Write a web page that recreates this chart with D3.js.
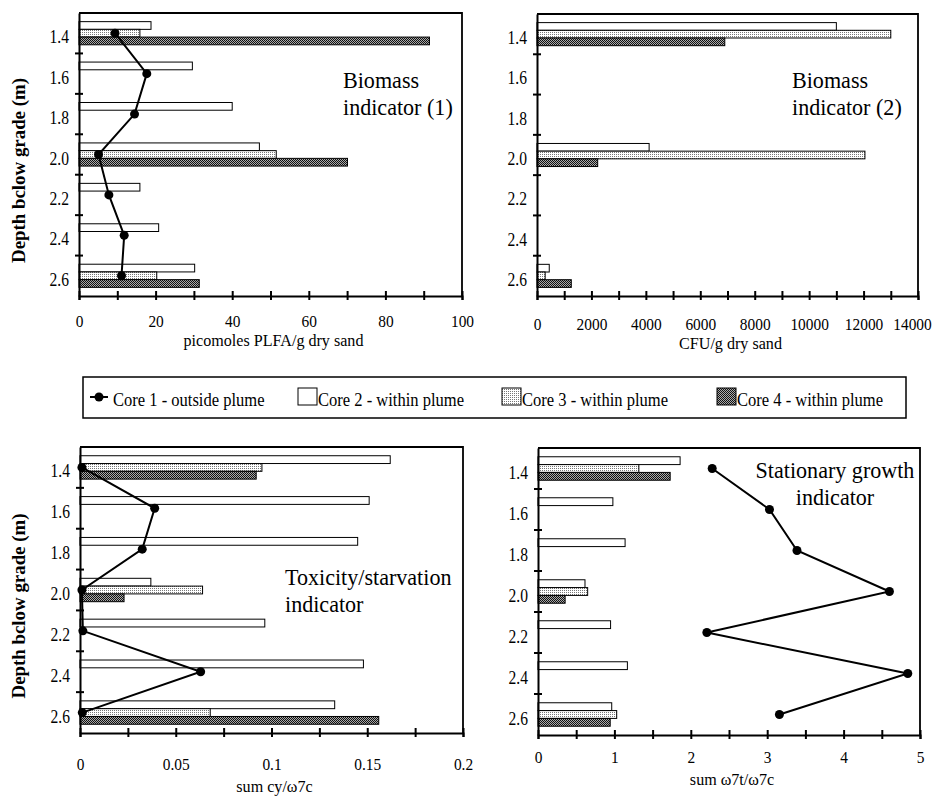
<!DOCTYPE html>
<html>
<head>
<meta charset="utf-8">
<script src="https://cdn.jsdelivr.net/npm/d3@7"></script>
<style>
  body { margin: 0; background: #fff; }
  text { font-family: "Liberation Serif", "Times New Roman", serif; fill: #000; }
</style>
</head>
<body>
<svg id="chart" width="936" height="796" font-family="Liberation Serif, serif"></svg>
<script>
/* DATA */
const depths = ["1.4", "1.6", "1.8", "2.0", "2.2", "2.4", "2.6"];
const coreNames = ["Core 1 - outside plume", "Core 2 - within plume", "Core 3 - within plume", "Core 4 - within plume"];

// biomass (1): picomoles PLFA/g dry sand
const plfaCore1 = [9.4, 17.7, 14.5, 5.1, 7.8, 11.8, 11.1];
const plfaCore2 = [18.8, 29.6, 40.0, 47.1, 15.9, 20.8, 30.2];
const plfaCore3 = [15.9, null, null, 51.5, null, null, 20.3];
const plfaCore4 = [91.5, null, null, 70.1, null, null, 31.4];

// biomass (2): CFU/g dry sand
const cfuCore2 = [11000, null, null, 4120, null, null, 450];
const cfuCore3 = [13000, null, null, 12050, null, null, 300];
const cfuCore4 = [6900, null, null, 2230, null, null, 1260];

// toxicity/starvation: sum cy/w7c
const cyCore1 = [0.001, 0.039, 0.0325, 0.001, 0.0015, 0.063, 0.0012];
const cyCore2 = [0.162, 0.151, 0.145, 0.037, 0.0965, 0.148, 0.133];
const cyCore3 = [0.095, null, null, 0.064, null, null, 0.068];
const cyCore4 = [0.092, null, null, 0.023, null, null, 0.156];

// stationary growth: sum w7t/w7c
const w7Core1 = [2.28, 3.03, 3.39, 4.6, 2.21, 4.84, 3.16];
const w7Core2 = [1.86, 0.98, 1.14, 0.615, 0.95, 1.17, 0.965];
const w7Core3 = [1.32, null, null, 0.65, null, null, 1.03];
const w7Core4 = [1.73, null, null, 0.355, null, null, 0.945];

// ticks
const plfaTicks = [0, 10, 20, 30, 40, 50, 60, 70, 80, 90, 100];
const plfaLabels = [0, 20, 40, 60, 80, 100];
const cfuTicks = [0, 1000, 2000, 3000, 4000, 5000, 6000, 7000, 8000, 9000, 10000, 11000, 12000, 13000, 14000];
const cfuLabels = [0, 2000, 4000, 6000, 8000, 10000, 12000, 14000];
const cyTicks = [0, 0.025, 0.05, 0.075, 0.1, 0.125, 0.15, 0.175, 0.2];
const cyLabels = [0, 0.05, 0.1, 0.15, 0.2];
const w7Ticks = [0, 0.5, 1, 1.5, 2, 2.5, 3, 3.5, 4, 4.5, 5];
const w7Labels = [0, 1, 2, 3, 4, 5];

/* LAYOUT */
const panels = [
  { x0: 79, x1: 462, y0: 13, y1: 296, max: 100, ticks: plfaTicks, labels: plfaLabels,
    line: plfaCore1, bars: [plfaCore2, plfaCore3, plfaCore4],
    xTitle: "picomoles PLFA/g dry sand", labelY: 19, titleY: 50, yTitle: true, lastShift: 0,
    title: ["Biomass", "indicator (1)"], tx: 343, ty: 88, anchor: "start" },
  { x0: 537, x1: 918, y0: 14, y1: 296, max: 14000, ticks: cfuTicks, labels: cfuLabels,
    line: null, bars: [cfuCore2, cfuCore3, cfuCore4],
    xTitle: "CFU/g dry sand", labelY: 22, titleY: 53, yTitle: false, lastShift: -6,
    title: ["Biomass", "indicator (2)"], tx: 792, ty: 88, anchor: "start" },
  { x0: 80, x1: 463, y0: 447, y1: 733, max: 0.2, ticks: cyTicks, labels: cyLabels,
    line: cyCore1, bars: [cyCore2, cyCore3, cyCore4],
    xTitle: "sum cy/\u03c97c", labelY: 25, titleY: 59, yTitle: true, lastShift: 0,
    title: ["Toxicity/starvation", "indicator"], tx: 285, ty: 585, anchor: "start" },
  { x0: 538, x1: 920, y0: 448, y1: 735, max: 5, ticks: w7Ticks, labels: w7Labels,
    line: w7Core1, bars: [w7Core2, w7Core3, w7Core4],
    xTitle: "sum \u03c97t/\u03c97c", labelY: 16, titleY: 50, yTitle: false, lastShift: 0,
    title: ["Stationary growth", "indicator"], tx: 835, ty: 478, anchor: "middle" }
];

const svg = d3.select("#chart");

// squeeze text horizontally (the original type is condensed)
function squeeze(sel, k) {
  sel.each(function () {
    const w = this.getComputedTextLength();
    d3.select(this).attr("textLength", w * k).attr("lengthAdjust", "spacingAndGlyphs");
  });
}

/* PATTERNS */
const defs = svg.append("defs");
const light = defs.append("pattern").attr("id", "stipple")
  .attr("width", 2).attr("height", 2).attr("patternUnits", "userSpaceOnUse");
light.append("rect").attr("width", 2).attr("height", 2).attr("fill", "#fff");
light.append("rect").attr("width", 1).attr("height", 1).attr("fill", "#777");

const dark = defs.append("pattern").attr("id", "checker")
  .attr("width", 2).attr("height", 2).attr("patternUnits", "userSpaceOnUse");
dark.append("rect").attr("width", 2).attr("height", 2).attr("fill", "#aaa");
dark.append("rect").attr("width", 1).attr("height", 1).attr("fill", "#111");
dark.append("rect").attr("x", 1).attr("y", 1).attr("width", 1).attr("height", 1).attr("fill", "#111");

const barFills = ["#fff", "url(#stipple)", "url(#checker)"];

/* PANELS */
panels.forEach(p => {
  const g = svg.append("g");

  const x = d3.scaleLinear().domain([0, p.max]).range([p.x0, p.x1]);
  const y = d3.scaleBand().domain(depths).range([p.y0, p.y1]).padding(0);
  const sub = d3.scaleBand().domain([0, 1, 2]).range([0, y.bandwidth()])
    .paddingInner(0).paddingOuter(1.12);

  // frame (top and right)
  g.append("path")
    .attr("d", `M${p.x0},${p.y0}H${p.x1}V${p.y1}`)
    .attr("fill", "none").attr("stroke", "#000").attr("stroke-width", 1.8);

  // bars for cores 2-4
  p.bars.forEach((vals, ci) => {
    g.selectAll(null)
      .data(depths.map((d, i) => ({ d, v: vals[i] })).filter(e => e.v != null))
      .join("rect")
      .attr("x", x(0))
      .attr("y", e => y(e.d) + sub(ci))
      .attr("width", e => x(e.v) - x(0))
      .attr("height", sub.bandwidth())
      .attr("fill", barFills[ci])
      .attr("stroke", "#000")
      .attr("stroke-width", 1);
  });

  // core 1 line + dots
  if (p.line) {
    const pts = depths.map((d, i) => ({ d, v: p.line[i] }));
    g.append("path")
      .datum(pts)
      .attr("fill", "none").attr("stroke", "#000").attr("stroke-width", 2)
      .attr("d", d3.line().x(e => x(e.v)).y(e => y(e.d) + y.bandwidth() / 2));
    g.selectAll(null).data(pts).join("circle")
      .attr("cx", e => x(e.v))
      .attr("cy", e => y(e.d) + y.bandwidth() / 2)
      .attr("r", 4.5).attr("fill", "#000");
  }

  // x axis
  const xAxis = g.append("g")
    .attr("transform", `translate(0,${p.y1})`)
    .call(d3.axisBottom(x).tickValues(p.ticks).tickSizeOuter(0).tickSize(4)
      .tickFormat(v => p.labels.includes(v) ? String(v) : ""));
  xAxis.attr("font-family", null);
  xAxis.select(".domain").attr("stroke-width", 2);
  xAxis.selectAll(".tick line").attr("y1", -5).attr("y2", 4).attr("stroke-width", 2);
  xAxis.selectAll(".tick text")
    .attr("y", p.labelY).attr("font-size", 17.5)
    .call(squeeze, 0.88);
  xAxis.selectAll(".tick text").filter(v => v === p.max).attr("dx", p.lastShift);

  // y axis: labels at band centres, cross ticks at band edges
  const yAxis = g.append("g")
    .attr("transform", `translate(${p.x0},0)`)
    .call(d3.axisLeft(y).tickSize(0).tickSizeOuter(0).tickPadding(10));
  yAxis.attr("font-family", null);
  yAxis.select(".domain").attr("stroke-width", 2);
  yAxis.selectAll(".tick text")
    .attr("dy", null).attr("y", 10)
    .attr("font-size", 18.5)
    .call(squeeze, 0.84);
  yAxis.selectAll(null)
    .data(depths.slice(0, -1))
    .join("line")
    .attr("x1", -4).attr("x2", 4)
    .attr("y1", d => y(d) + y.bandwidth()).attr("y2", d => y(d) + y.bandwidth())
    .attr("stroke", "#000").attr("stroke-width", 2);

  // x title
  g.append("text")
    .attr("x", (p.x0 + p.x1) / 2 + 3)
    .attr("y", p.y1 + p.titleY)
    .attr("text-anchor", "middle")
    .attr("font-size", 17.5)
    .text(p.xTitle)
    .call(squeeze, 0.92);

  // y title
  if (p.yTitle) {
    g.append("text")
      .attr("transform", `translate(25,${(p.y0 + p.y1) / 2 + 16}) rotate(-90)`)
      .attr("text-anchor", "middle")
      .attr("font-size", 19)
      .attr("font-weight", "bold")
      .attr("textLength", 185)
      .attr("lengthAdjust", "spacingAndGlyphs")
      .text("Depth bclow grade (m)");
  }

  // panel title
  g.selectAll(null).data(p.title).join("text")
    .attr("x", p.tx)
    .attr("y", (t, i) => p.ty + i * 27)
    .attr("text-anchor", p.anchor)
    .attr("font-size", 24)
    .text(t => t)
    .call(squeeze, 0.92);
});

/* LEGEND */
const legend = svg.append("g");
legend.append("rect")
  .attr("x", 83).attr("y", 377).attr("width", 823).attr("height", 41)
  .attr("fill", "#fff").attr("stroke", "#000").attr("stroke-width", 1.5);

const legendX = [90, 298, 502, 717];
const legendItems = legend.selectAll(null).data(coreNames).join("g")
  .attr("transform", (d, i) => `translate(${legendX[i]},397)`);

legendItems.each(function (d, i) {
  const item = d3.select(this);
  let tx;
  if (i === 0) {
    item.append("line").attr("x1", 0).attr("x2", 18).attr("stroke", "#000").attr("stroke-width", 2);
    item.append("circle").attr("cx", 9).attr("r", 4.5).attr("fill", "#000");
    tx = 23;
  } else {
    item.append("rect").attr("x", 0).attr("y", -9).attr("width", 19).attr("height", 17)
      .attr("fill", barFills[i - 1]).attr("stroke", "#000").attr("stroke-width", 1);
    tx = 20;
  }
  item.append("text")
    .attr("x", tx).attr("y", 9)
    .attr("font-size", 19)
    .text(d)
    .call(squeeze, 0.87);
});
</script>
</body>
</html>
